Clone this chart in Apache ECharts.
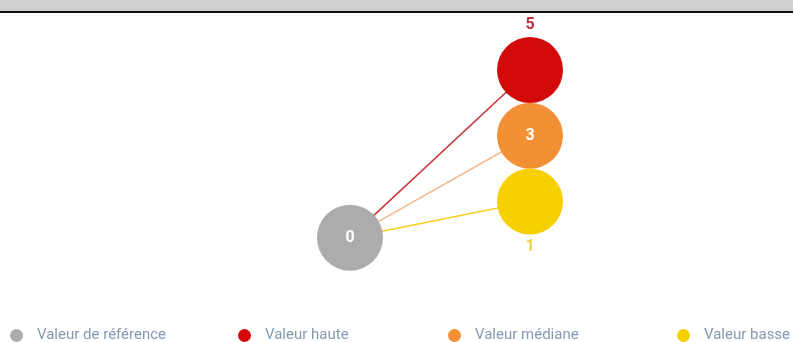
<!DOCTYPE html>
<html>
<head>
<meta charset="utf-8">
<script src="https://cdn.jsdelivr.net/npm/echarts@6/dist/echarts.min.js"></script>
<style>
  html, body { margin: 0; padding: 0; background: #ffffff; }
  #chart { width: 793px; height: 342px; }
</style>
</head>
<body>
<div id="chart"></div>
<script>
// Values of the reference point and the three comparison points
const names = ['Valeur de référence', 'Valeur haute', 'Valeur médiane', 'Valeur basse'];
const values = [0, 5, 3, 1];
const colors = ['#acacac', '#d20a0a', '#f39035', '#f8d000'];
const linkColors = [null, '#c8363c', '#f5b98c', '#f4d21c'];
const labelColors = ['#ffffff', '#b8303e', '#ffffff', '#f3d23c'];
const labelPlaces = ['inside', 'top', 'inside', 'bottom'];

// Comparison points are stacked by rank (highest on top); the reference sits left, just below the stack
const refRow = 0.45;
const compIdx = [1, 2, 3];
const sorted = compIdx.slice().sort((a, b) => values[a] - values[b]);
const row = {};
sorted.forEach((i, k) => { row[i] = k + 1; });
row[0] = refRow;
const col = i => (i === 0 ? 0 : 1);

const series = [];
// connectors from the reference to each comparison point
compIdx.forEach(i => {
  series.push({
    type: 'line',
    silent: true,
    z: 1,
    symbol: 'none',
    lineStyle: { color: linkColors[i], width: 1.6 },
    data: [[col(0), row[0]], [col(i), row[i]]]
  });
});
// the circles
names.forEach((n, i) => {
  series.push({
    type: 'scatter',
    name: n,
    z: 3,
    symbolSize: 66,
    itemStyle: { color: colors[i], opacity: 1 },
    label: {
      show: true,
      position: labelPlaces[i],
      distance: 4,
      formatter: String(values[i]),
      color: labelColors[i],
      fontSize: 16,
      fontWeight: 'bold',
      fontFamily: 'Roboto'
    },
    data: [[col(i), row[i], values[i]]]
  });
});

const legendLeft = [10, 238, 448, 677];
const legends = names.map((n, i) => ({
  data: [n],
  left: legendLeft[i],
  top: 328,
  padding: 0,
  icon: 'circle',
  itemWidth: 13,
  itemHeight: 13,
  itemGap: 0,
  textStyle: { color: '#8499b3', fontSize: 15, fontFamily: 'Roboto', padding: [0, 0, 0, 9] },
  selectedMode: false
}));

const chart = echarts.init(document.getElementById('chart'), null, { renderer: 'canvas' });
chart.setOption({
  animation: false,
  backgroundColor: '#ffffff',
  graphic: [
    { type: 'rect', left: 0, top: 0, shape: { width: 793, height: 11 }, style: { fill: '#d0d0d0' }, z: 10 },
    { type: 'rect', left: 0, top: 11, shape: { width: 793, height: 2 }, style: { fill: '#111111' }, z: 10 }
  ],
  grid: { left: 350, width: 180, top: 70, height: 197.25 },
  xAxis: { type: 'value', min: 0, max: 1, show: false },
  yAxis: { type: 'value', min: 0, max: 3, show: false },
  legend: legends,
  series: series
});
</script>
</body>
</html>
